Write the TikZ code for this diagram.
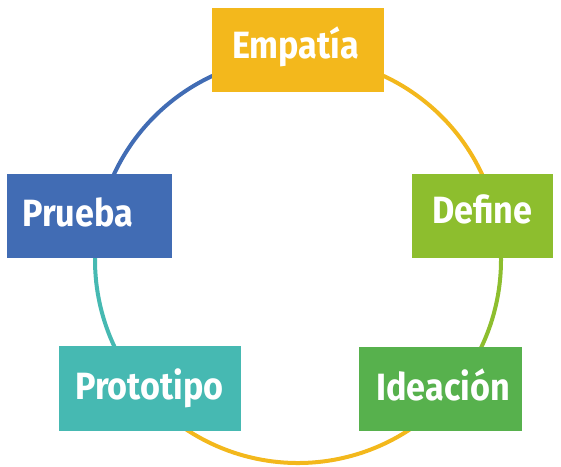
\documentclass[tikz,border=0pt]{standalone}
\usepackage{fontspec}
\setmainfont{Fira Sans}[FakeStretch=0.9]
\definecolor{cyel}{HTML}{F3B81C}
\definecolor{cdef}{HTML}{8DBE2E}
\definecolor{cide}{HTML}{57B14D}
\definecolor{cpro}{HTML}{46B9B2}
\definecolor{cpru}{HTML}{416CB4}
\tikzset{
  box/.style={draw=none, inner sep=0pt, anchor=north west},
  lab/.style={text=white, font=\bfseries\fontsize{38}{40}\selectfont, inner sep=0pt, anchor=base west},
  ring/.style={line width=4pt},
}
\begin{document}
\begin{tikzpicture}[x=1pt,y=-1pt]
\useasboundingbox (0,0) rectangle (561,466);
\coordinate (c) at (298,260);
% ring segments
\draw[ring,cyel] (c) ++(90:203pt) arc[start angle=90, end angle=13, radius=203pt];
\draw[ring,cdef] (c) ++(13:203pt) arc[start angle=13, end angle=-42, radius=203pt];
\draw[ring,cyel] (c) ++(-42:203pt) arc[start angle=-42, end angle=-139, radius=203pt];
\draw[ring,cpro] (c) ++(221:203pt) arc[start angle=221, end angle=168, radius=203pt];
\draw[ring,cpru] (c) ++(168:203pt) arc[start angle=168, end angle=90, radius=203pt];
% boxes
\node[box, fill=cyel, minimum width=172pt, minimum height=84pt] (emp) at (212,8) {};
\node[box, fill=cdef, minimum width=141pt, minimum height=84pt] (def) at (412,174) {};
\node[box, fill=cide, minimum width=163pt, minimum height=84pt] (ide) at (359,347) {};
\node[box, fill=cpro, minimum width=182pt, minimum height=85pt] (pro) at (59,346) {};
\node[box, fill=cpru, minimum width=165pt, minimum height=84pt] (pru) at (7,174) {};
% labels
\node[lab] (empt) at (232,58) {Empatía};
\node[lab] (deft) at (432,223) {Define};
\node[lab] (idet) at (376,400) {Ideación};
\node[lab] (prot) at (75,399) {Prototipo};
\node[lab] (prut) at (22,226) {Prueba};
\end{tikzpicture}
\end{document}
